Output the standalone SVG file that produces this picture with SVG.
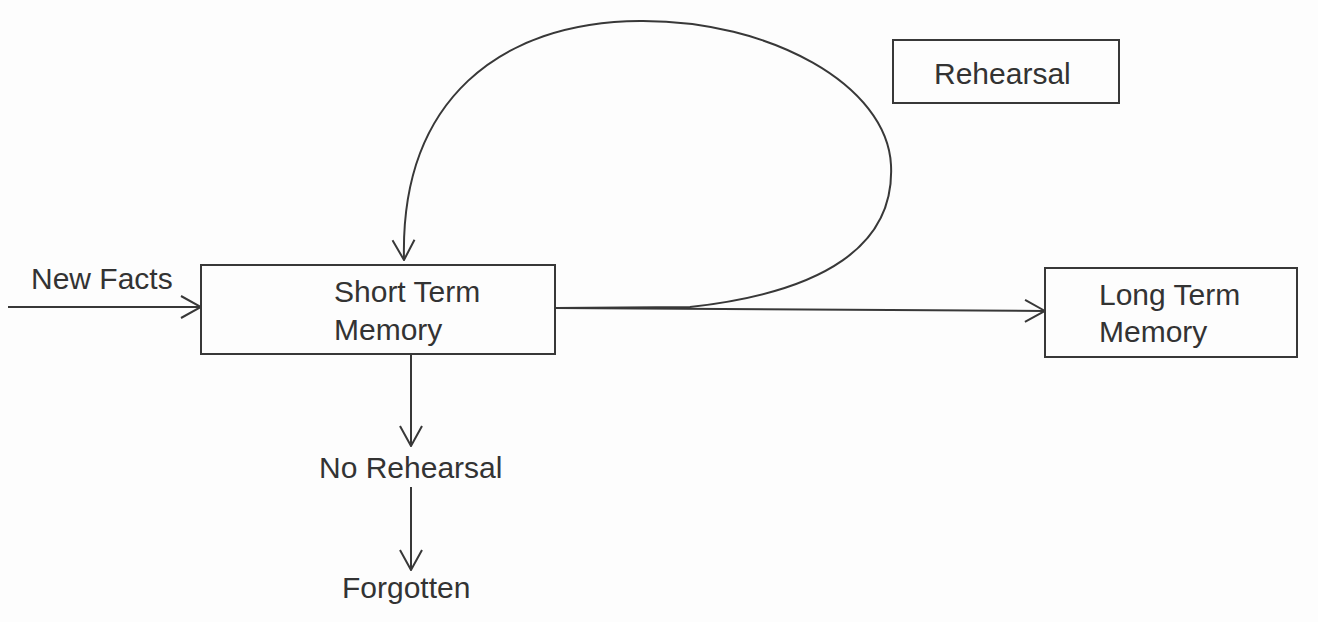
<svg xmlns="http://www.w3.org/2000/svg" width="1318" height="622" viewBox="0 0 1318 622">
<style>
.box{fill:none;stroke:#383838;stroke-width:2}
.ln{fill:none;stroke:#383838;stroke-width:2}
.t{font-family:"Liberation Sans",Arial,sans-serif;font-size:30px;fill:#333333}
</style>
<defs>
<marker id="arr" viewBox="0 0 22 24" refX="21" refY="12" markerWidth="22" markerHeight="24" markerUnits="userSpaceOnUse" orient="auto">
<path d="M1,1 L21,12 L1,23" fill="none" stroke="#383838" stroke-width="2"/>
</marker>
</defs>
<rect width="1318" height="622" fill="#fdfdfd"/>
<g id="connectors">
<line class="ln" x1="8" y1="307" x2="201" y2="307" marker-end="url(#arr)"/>
<line class="ln" x1="555" y1="308" x2="1045" y2="311" marker-end="url(#arr)"/>
<path class="ln" d="M556 308 L690 307 C825 292 895 245 891 165 C887 85 770 20 640 21 C500 22 400 100 404 260" marker-end="url(#arr)"/>
<line class="ln" x1="411" y1="355" x2="411" y2="446" marker-end="url(#arr)"/>
<line class="ln" x1="411" y1="487" x2="411" y2="570" marker-end="url(#arr)"/>
</g>
<g id="new-facts"><text class="t" x="31" y="289">New Facts</text></g>
<g id="short-term-memory">
<rect class="box" x="201" y="265" width="354" height="89"/>
<text class="t" x="334" y="302">Short Term</text>
<text class="t" x="334" y="340">Memory</text>
</g>
<g id="long-term-memory">
<rect class="box" x="1045" y="268" width="252" height="89"/>
<text class="t" x="1099" y="305">Long Term</text>
<text class="t" x="1099" y="342">Memory</text>
</g>
<g id="rehearsal">
<rect class="box" x="893" y="40" width="226" height="63"/>
<text class="t" x="934" y="84">Rehearsal</text>
</g>
<g id="no-rehearsal"><text class="t" x="319" y="478">No Rehearsal</text></g>
<g id="forgotten"><text class="t" x="342" y="598">Forgotten</text></g>
</svg>
